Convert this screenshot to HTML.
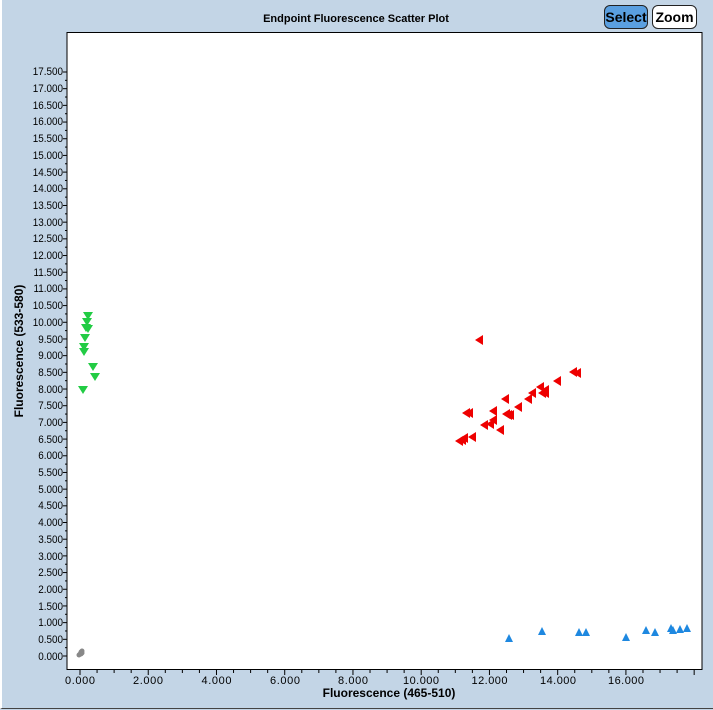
<!DOCTYPE html>
<html><head><meta charset="utf-8"><style>
body{margin:0;width:713px;height:710px;overflow:hidden;background:#c3d5e6;font-family:"Liberation Sans",sans-serif}
.btn{position:absolute;top:5px;height:22px;border:1px solid #222;border-radius:6px;font:bold 14px "Liberation Sans",sans-serif;line-height:22px;text-align:center}
</style></head><body>
<div style="position:absolute;left:0;top:0;width:711px;height:708px;border:1px solid #444;border-top:none;border-left:2px solid #fff"></div>
<div class="btn" style="left:604px;width:42px;background:#5a9fe0">Select</div>
<div class="btn" style="left:652px;width:43px;background:#fff">Zoom</div>
<svg width="713" height="710" style="position:absolute;left:0;top:0" font-family="Liberation Sans, sans-serif">
<text x="356" y="22" font-size="11" font-weight="bold" text-anchor="middle">Endpoint Fluorescence Scatter Plot</text>
<rect x="67" y="32.5" width="635" height="637" fill="#fff" stroke="#000" stroke-width="1"/>
<g id="ticks" stroke="#000" stroke-width="1"></g>
<g transform="translate(63,0) scale(0.9,1)"><g font-size="11" text-anchor="end" transform="translate(-63,0)">
<text x="63" y="660">0.000</text><text x="63" y="643">0.500</text><text x="63" y="626">1.000</text><text x="63" y="610">1.500</text><text x="63" y="593">2.000</text><text x="63" y="576">2.500</text><text x="63" y="560">3.000</text><text x="63" y="543">3.500</text><text x="63" y="526">4.000</text><text x="63" y="509">4.500</text><text x="63" y="493">5.000</text><text x="63" y="476">5.500</text><text x="63" y="459">6.000</text><text x="63" y="443">6.500</text><text x="63" y="426">7.000</text><text x="63" y="409">7.500</text><text x="63" y="393">8.000</text><text x="63" y="376">8.500</text><text x="63" y="359">9.000</text><text x="63" y="343">9.500</text><text x="63" y="326">10.000</text><text x="63" y="309">10.500</text><text x="63" y="292">11.000</text><text x="63" y="276">11.500</text><text x="63" y="259">12.000</text><text x="63" y="242">12.500</text><text x="63" y="226">13.000</text><text x="63" y="209">13.500</text><text x="63" y="192">14.000</text><text x="63" y="176">14.500</text><text x="63" y="159">15.000</text><text x="63" y="142">15.500</text><text x="63" y="125">16.000</text><text x="63" y="109">16.500</text><text x="63" y="92">17.000</text><text x="63" y="75">17.500</text>
</g></g>
<g font-size="11" text-anchor="middle">
<text x="80" y="684" textLength="30">0.000</text><text x="148" y="684" textLength="30">2.000</text><text x="216.5" y="684" textLength="30">4.000</text><text x="285" y="684" textLength="30">6.000</text><text x="353" y="684" textLength="30">8.000</text><text x="421" y="684" textLength="36">10.000</text><text x="489.5" y="684" textLength="36">12.000</text><text x="558" y="684" textLength="36">14.000</text><text x="626" y="684" textLength="36">16.000</text>
</g>
<text x="389" y="697" font-size="12" font-weight="bold" text-anchor="middle">Fluorescence (465-510)</text>
<text transform="translate(23,351) rotate(-90)" font-size="12" font-weight="bold" text-anchor="middle">Fluorescence (533-580)</text>
<g id="pts"></g>
</svg>
<script>
var t=document.getElementById('ticks'),s='';
for(var i=0;i<=35;i++){var y=656-i*16.686;s+='<line x1="63" x2="67" y1="'+y+'" y2="'+y+'"/>';var y2=y-8.34;if(i<35)s+='<line x1="65" x2="67" y1="'+y2+'" y2="'+y2+'"/>';}
for(var j=0;j<=36;j++){var x=80+j*17.06;if(x<702)s+='<line x1="'+x+'" x2="'+x+'" y1="670" y2="'+(j%4==0?675:673)+'"/>';}
t.innerHTML=s;
var p='';
function dn(x,y,c){p+='<polygon points="'+(x-5)+','+(y-4)+' '+(x+5)+','+(y-4)+' '+x+','+(y+4)+'" fill="'+c+'"/>';}
function up(x,y,c){p+='<polygon points="'+(x-4)+','+(y+4)+' '+(x+4)+','+(y+4)+' '+x+','+(y-4)+'" fill="'+c+'"/>';}
function lf(x,y,c){p+='<polygon points="'+(x+4)+','+(y-5)+' '+(x+4)+','+(y+5)+' '+(x-4)+','+y+'" fill="'+c+'"/>';}
[[88,316],[87,322],[86,328],[88,329],[85,338],[84,347],[84,352],[83,390],[93,367],[95,377]].forEach(function(a){dn(a[0],a[1],'#22cc44')});
[[509,638],[542,631],[579,632],[586,632],[626,637],[646,630],[655,632],[671,628],[673,630],[680,629],[687,628]].forEach(function(a){up(a[0],a[1],'#1e88e0')});
[[479,340],[573,372],[577,373],[557,381],[540,387],[545,390],[532,393],[528,399],[518,407],[505,399],[542,393],[508,415],[493,411],[490,424],[510,415],[506,414],[484,425],[472,437],[464,438],[462,440],[459,441],[500,430],[493,420],[545,393],[469,413],[466,413]].forEach(function(a){lf(a[0],a[1],'#ee0000')});
[[80,654],[81,652],[82,651],[79,655],[81,654],[82,653]].forEach(function(a){p+='<circle cx="'+a[0]+'" cy="'+a[1]+'" r="2.5" fill="#888"/>';});
document.getElementById('pts').innerHTML=p;
</script>
</body></html>
